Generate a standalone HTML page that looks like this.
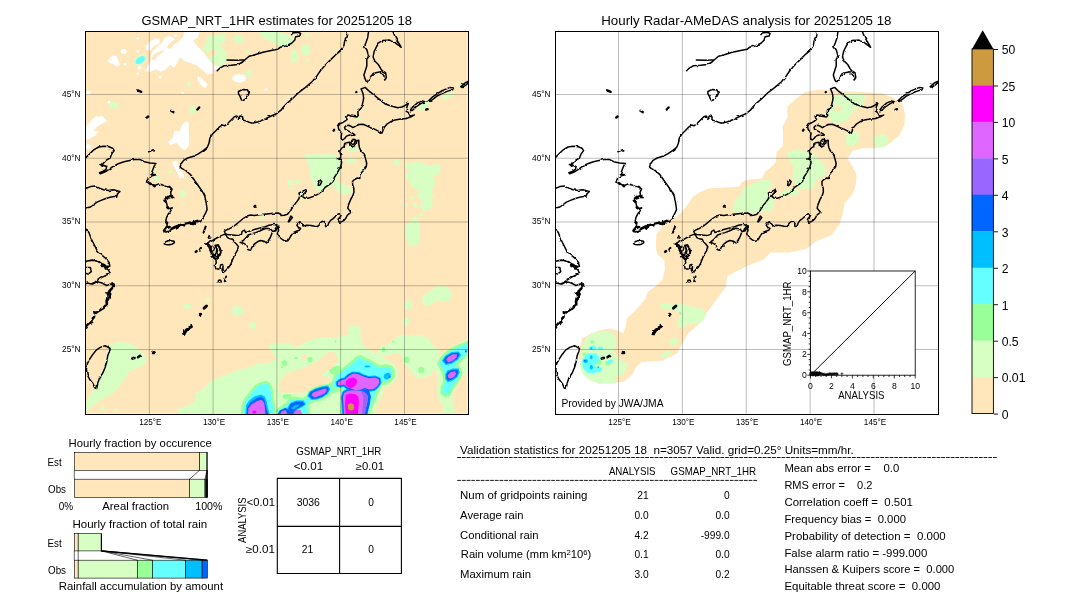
<!DOCTYPE html>
<html><head><meta charset="utf-8"><title>GSMaP validation</title>
<style>html,body{margin:0;padding:0;background:#fff}svg{display:block;opacity:0.999}text{font-family:"Liberation Sans",sans-serif;fill:#000;white-space:pre}</style></head><body>
<svg width="1080" height="612" viewBox="0 0 1080 612">
<defs>
<clipPath id="mc"><rect x="0.5" y="0.5" width="383" height="383"/></clipPath>
<filter id="jag" x="-2%" y="-2%" width="104%" height="104%"><feTurbulence type="fractalNoise" baseFrequency="0.22" numOctaves="2" seed="7" result="n"/><feDisplacementMap in="SourceGraphic" in2="n" scale="2.6" xChannelSelector="R" yChannelSelector="G"/></filter>
<g id="coast" filter="url(#jag)" fill="none" stroke="#000" stroke-width="1.5" stroke-linejoin="round" stroke-linecap="round">
<path d="M131.6 39.7 L134.1 37.3 L138.2 34.8 L145.5 34.3 L152.9 33.5 L157 31 L159.4 28.8 L163.5 25.3 L169.2 23.7 L177.4 21.2 L185.6 19.6 L192.1 18.3 L194.5 16.3 L200.3 15 L206 12.3 L209.2 9 L210.1 5.7 L214.2 4.9 L215 2.5 L212.5 1.3 L206.8 2 L206 3.6 M141.4 29.1 L151.2 29.2 L159.4 28.8 M152.9 60.5 L157 58.5 L161.9 58.8 L163.5 62.1 L161.9 65.4 L160.2 67.8 L157.8 69.4 L155.3 67.8 L154.5 65.4 L152.9 62.9Z M261 0 L262 3.3 L261.3 6.5 L260 8.2 L259.1 9.8 L258.3 14.7 L255 19.6 L250.1 23.7 L244.4 29.4 L239.5 34.3 L234.6 40 L231.3 44.9 L226.4 50.7 L219.9 56.4 L213.3 61.3 L207.6 67 L201.9 71.9 L197.8 76 L195.4 79.2 L191.3 82.5 L185.6 85 L179 88.2 L172.5 90.7 L166.8 92.3 L163.5 91.2 L160.2 89.9 L157 89 L157 85.8 L154.5 85 L152.9 87.4 L151.2 85 L148.8 85.8 L145.5 89 L142.3 92.3 L139 94.8 L136.5 94 L133.3 96.4 L130 100 L126.6 103.3 L124.2 107.4 L123.4 112.3 L121.7 116.3 L117.6 119.6 L112.7 122.9 L107.8 125.3 L102.1 127 L98 129.4 L95.6 132.7 L94.4 135.9 L96.4 137.6 L99.7 139.2 L104.6 143.3 L108.7 149 L112.7 154.7 L116.8 160.5 L119.3 165.4 L120.6 171.9 L121.2 176 L121.5 178.5 L120.3 181.4 L118.5 185 L116.5 187.8 L114.4 189.9 L111.1 190.7 L109.5 193.1 L106.2 192.3 L102.9 191.5 L98.9 193.1 L94.8 194.4 L90.7 196.4 L86.6 198 L83.3 200 L80.5 201 L78.5 200.5 L80.1 198 L81.7 194 L80.1 190.7 L80.9 186.6 L82.5 183.3 L85 180.1 L86.6 176.8 L84.2 177.6 L81.7 175.2 L80.9 171.9 L78.4 169.4 L80.1 167 L84.2 166.2 L88.2 166.7 L85.8 165.4 L85 161.3 L86.6 158 L84.2 156.4 L80.9 155.6 L76.8 153.9 L72.7 153.1 L68.6 154.7 L64.5 152.6 L60.5 150.7 L62.9 147.4 L66.2 144.9 L70.3 143.8 L65.4 143.3 L67 139.2 L68.6 135.1 L70.3 132.4 L64.5 131.9 L58.8 130.7 L54.7 128.6 L49 128.6 L44.1 129.4 L38.4 130.7 L32.7 132.7 L27.8 135.1 L24.5 137.6 L19.6 140.8 L14.7 142.8 L13.9 141.7 L17.2 140.5 L20.4 138.4 L21.2 135.1 L16.3 134.3 L18 131.9 L20.4 129.4 L24.5 127 L26.1 122.9 L28.6 119.6 L27 117.2 L22.9 115.5 L18 115.2 L13.1 116 L8.2 118.8 L4.1 122.9 L0.8 126.1 L0 127 M62.9 120.8 L67.8 118.8 M0 157.5 L0.8 157.2 L4.9 155.6 L9.8 155.1 L13.9 157.2 L18 158.8 L22.9 159.6 L27 158.8 L31 159.6 L34.3 160.5 L31.9 162.9 L31 166.2 L28.6 165.4 L24.5 166.2 L19.6 167.8 L15.5 169.4 L11.4 171.1 L8.2 173.5 L4.9 176 L1.6 176.8 L0 177.6 M0 197.5 L0.8 199 L3.3 201.4 L5.7 208 L9 214.5 L11.4 219.4 L15.5 223.5 L20.4 227.6 L23.7 231.7 L24.5 234.9 L21.2 235.8 L16.3 232.5 L11.4 230 L6.5 228.9 L1.6 230 L0 230.8 M15.5 232.8 L20.4 234.4 L22.9 236.1 L18.8 235.8 L15.5 234.1Z M0 230.2 L7.4 229.2 L13.9 230.8 L19.6 236.6 L22.9 239 L24.5 242.3 L21.2 243.9 L16.3 246.4 L12.3 248.8 L9 251.3 L5.7 252.9 L1.6 252.1 L0 252.9 M5.7 252.9 L7.4 252.9 L11.4 250.5 L16.3 252.1 L21.2 254.5 L25.3 252.9 L28.6 254.5 L26.1 257 L22.9 260.3 L24.5 264.3 L21.2 266.8 L20.4 270.9 L21.2 275 L17.2 278.2 L13.9 279.9 L11.4 281.5 L8.2 280.7 L9 284.8 L7.4 288.1 L4.9 291.4 L1.6 294.6 L0 297.1 M0 236.6 L4.9 236.6 L5.7 240.7 L2.5 243.1 L0 242.3 M19.6 314.7 L24.5 317.5 L23.7 320.8 L22.1 324.8 L21.2 330.6 L19.6 336.3 L17.2 342 L13.9 346.9 L12.3 351.8 L11.1 357.5 L9 356.7 L7.4 352.6 L4.1 348.5 L1.6 343.6 L0.8 338.7 L1.6 333 L4.1 328.1 L7.4 323.2 L10.6 319.1 L14.7 316.4Z M282.9 0 L282.9 0.8 L282.1 6.5 L280.4 11.4 L278.8 15.5 L281.2 18.8 L282.9 24.5 L281.2 29.4 L281.2 35.1 L279.6 40 L278.3 44.1 L279.6 48.2 L281.2 51.5 L283.7 48.2 L286.1 44.1 L290.2 41.7 L295.1 40.8 L298.4 44.9 L299.2 49 L300.8 46.6 L300 41.7 L296.8 40 L295.1 37.6 L292.7 33.5 L289.4 30.2 L287.5 26.1 L288.6 20.4 L291 15.5 L293.5 11.4 L297.6 9.5 L303.3 9 L308.2 10.6 L312.3 13.9 L315.6 16.3 L314.7 14.7 L312.3 10.6 L309.8 6.5 L307.4 0.8 L307.2 0 M275.5 58 L279.6 56.4 L282.9 59.6 L287 62.9 L291 66.2 L295.1 69.4 L299.2 72.7 L303.3 74.3 L307.4 75.5 L312.3 76.8 L316.4 76 L319.6 74.3 L322.9 71.9 L321.3 76 L320.5 80.1 L322.9 81.7 L324.5 85 L328.6 84.2 L325.4 85.8 L321.3 87.4 L315 87.9 L309.5 88.9 L305.6 90.4 L301.7 92.8 L298.7 96.3 L297.3 99.7 L296.3 102.1 L292.8 100.2 L288.9 98.2 L285 96.7 L281.1 94.8 L277.2 93.3 L273.7 93.5 L270.3 94.8 L267.4 96.7 L265.4 95.3 L262.9 94.3 L260.5 94.8 L259 96.3 L259.5 98.2 L262 99.7 L264.9 101.2 L267.8 102.6 L269.3 104.1 L266.4 104.6 L263.4 104.1 L261 105.1 L259 107.5 L257.1 109 L255.6 107.5 L255.6 105.1 L256.1 102.1 L254.6 100.2 L253.1 98.2 L252.6 95.3 L254.1 92.8 L256.6 91.8 L259 90.4 L261.5 88.4 L260.5 86.9 L260 85 L262.5 84 L265.4 85 L268.3 85.5 L271.3 86 L272.7 84.5 L272.3 81.5 L272.7 78.6 L275.7 77.1 L276.7 73.7 L277.6 69.8 L278.1 65.9 L277.2 61.9Z M324.5 79.7 L327 76 L331.9 71.9 L336.8 69.9 L339.2 70.6 L335.2 72.7 L330.3 76 L327 79.2Z M342.5 70.3 L346.6 66.2 L351.5 62.9 L356.4 59.6 L364.6 56.4 L367.8 56.9 L367 58.8 L362.1 60.1 L358 61.8 L354.8 63.4 L351.5 65 L348.2 67.6 L344.2 70.6Z M375.2 55.6 L379.3 52 L382.5 50.3 L382.9 51.6 L380.1 54.2 L376.3 56.5Z M138.7 200.3 L140.5 199.1 L143.6 197.9 L146.7 196.1 L150.3 193.6 L154 190.5 L157.7 187.5 L161.4 185 L165 184 L168.7 184.4 L173.6 183.8 L178.5 183.2 L183.4 182.8 L188.3 182.3 L192.6 182 L195.1 183.2 L195.4 184.6 L198.6 184.2 L201.9 183.3 L204.3 180.1 L206 176.8 L208.4 174.3 L210.9 171.1 L213.3 167.8 L214.2 164.5 L213.3 162.1 L216.6 160.5 L219.9 158.8 L220.7 160.5 L218.2 162.9 L216.6 165.4 L219.1 167 L222.3 167.3 L228 165.4 L232.9 162.9 L237 159.6 L239.5 156.4 L244.4 153.1 L247.7 150 L248.7 146.5 L251.2 142.6 L253.1 139.2 L255.1 135.3 L256.1 131.4 L255.1 128.4 L251.7 127.9 L255.1 126.9 L255.1 123.5 L254.1 120.1 L256.1 117.1 L258.5 115.7 L259 112.7 L261 111.7 L263.9 111.3 L264.4 114.7 L266.4 116.2 L269.3 114.7 L270.8 112.2 L271.3 109.8 L273.2 109.3 L273.2 112.7 L273.7 116.2 L275.2 119.6 L277.6 122 L279.1 125 L280.1 128.4 L281.1 132.3 L280.6 135.8 L278.6 138.7 L276.2 141.2 L274.2 144.1 L274.2 147.5 L271.8 147 L268.8 148.5 L266.9 150.5 L267.1 153.9 L268.3 157.6 L268.3 161.3 L267.1 164.9 L265.3 168 L264 171.1 L262.8 174.1 L262.2 177.2 L264 179.6 L265.9 181.8 L263.4 182.7 L261.6 184.5 L260.4 187 L258.5 189.4 L256.1 190.7 L253.6 191.3 L252.4 188.2 L254.2 186.4 L255.5 184.5 L254.2 182.7 L251.8 183.3 L250 185.2 L247.5 187.6 L245 189.4 L243.2 191.9 L242 195 L240.1 195.6 L239.5 192.5 L238.3 190.1 L235.9 190.7 L233.4 193.1 L232.2 195.6 L229.1 195.3 L225.4 194.6 L221.2 194.3 L217.5 195 L215.6 193.1 L214.4 190.7 L212.6 191.9 L211.3 194.3 L212.6 196.2 L215 197.4 L213.8 199.2 L210.1 200.5 L207.7 201.7 L205.8 204.1 L204 207.2 L202.2 209.7 L199.7 210.3 L196.6 208.4 L193.6 206 L191.7 202.9 L193 199.2 L192.4 196.2 L190.8 194.2 L188.3 193.4 L183.4 194.2 L178.5 196.1 L173.6 197.3 L168.7 198.5 L163.8 200.3 L160.1 201.6 L158.9 199.1 L156.5 200.3 L155.9 203.4 L151.6 204.6 L146.7 204 L141.8 203.4 L139.9 202.8Z M266.4 109.3 L268.8 108.3 L271.3 109.8 L269.3 110.3 L268.8 112.7 L266.4 113.7 L265.4 111.7Z M234.6 149 L236.2 150.7 L234.6 153.9 L232.6 154.7 L232.9 152Z M202.7 190.7 L205.2 185 L206.8 186.6 L203.5 190.7Z M190.8 196.1 L189.6 197.9 L188.3 200.3 L190.2 199.7 L191.4 197.3Z M154.6 211.4 L157.7 209.5 L160.1 207.1 L162.6 204 L166.3 202.8 L170 201.6 L173.6 200.3 L177.3 198.5 L181 197.3 L184.7 197.9 L187.1 200.3 L185.9 203.4 L184.7 206.5 L182.8 209.5 L181 212 L178.5 210.2 L174.9 209.5 L171.8 210.8 L168.7 213.2 L166.3 216.3 L165 219.3 L162.6 218.7 L160.8 216.3 L159.5 213.2 L157.7 212Z M120.9 213.2 L124.6 210.8 L128.3 208.6 L132 206.5 L135.6 204.6 L138.7 203.4 L140.5 204 L141.8 206.5 L144.2 207.7 L147.3 208.3 L148.5 210.8 L151 213.2 L152.8 215.7 L152.2 218.7 L150.3 221.8 L148.5 224.9 L147.3 227.9 L146.1 231 L144.8 234 L143 236.5 L141.2 238.3 L139.3 240.2 L137.5 241.4 L136.3 239 L137.5 235.9 L136.9 233.4 L135 234 L134.4 237.1 L132.6 238.3 L130.1 237.7 L129.5 234.7 L130.7 231.6 L130.1 228.5 L128.3 226.7 L127.7 224.2 L125.8 222.4 L124.6 219.3 L123.4 216.3Z M129.5 214.4 L132.6 213.8 L134.4 216.9 L135.6 220.6 L134.4 224.2 L132 226.1 L129.5 224.2 L130.7 221.2 L131.3 218.1Z M78.6 212.6 L80.5 210.6 L84.5 209.6 L88.5 210.2 L88.8 211.6 L86.5 213.2 L82.5 213.8 L79.5 213.6Z"/>
<path d="M52.3 59.4 L55.6 60.9" stroke-width="2.3"/>
<path d="M61.3 86.5 L62.6 85.5" stroke-width="2.4"/>
<path d="M85.5 79.8 L88 81.2" stroke-width="2.4"/>
<path d="M111.8 78.5 L113.6 76.5" stroke-width="2.4"/>
<path d="M270.6 61.2 L270.9 61" stroke-width="2.2"/>
<path d="M248 99.6 L248.5 98.8" stroke-width="2.4"/>
<path d="M340.5 78.6 L342 78.2" stroke-width="2.4"/>
<path d="M169.1 175.4 L169.5 175" stroke-width="2.8"/>
<path d="M120.2 195.2 L119 198.5 L117.9 201.6" stroke-width="2.0"/>
<path d="M110.2 220.8 L111 220.2" stroke-width="2.6"/>
<path d="M115.4 216.9 L114.2 218.7" stroke-width="2.2"/>
<path d="M123.2 206.7 L123.6 206.3" stroke-width="2.4"/>
<path d="M108 191.6 L109.4 191.9" stroke-width="3.0"/>
<path d="M140.6 245.4 L139 250.3" stroke-width="1.8"/>
<path d="M120.9 275 L118.5 277.2" stroke-width="3.0"/>
<path d="M114.2 283.3 L114.6 282.9" stroke-width="2.4"/>
<path d="M98 303.6 L100.5 299.5 L103.8 296.7 L105.8 295.6" stroke-width="3.0"/>
<path d="M114.2 284.2 L114.6 283.8" stroke-width="2.0"/>
<path d="M46.8 327.5 L48.8 327" stroke-width="2.8"/>
<path d="M52.4 326.2 L54.4 324.8" stroke-width="2.6"/>
<path d="M66.5 320.2 L69.5 322.4 L67 322.4" stroke-width="1.6"/>
<path d="M78.5 199.5 L81 196.5 L84 196" stroke-width="2.6"/>
<path d="M86 197.5 L90 195.5 L95 193.8 L100 192.5 L105 192" stroke-width="2.2"/>
<path d="M127 225.5 L129.5 227.5" stroke-width="2.2"/>
<path d="M26.5 252 L28.5 253.5" stroke-width="2.0"/>
<path d="M21.5 262 L23.5 266 L21.5 270 L21.5 274" stroke-width="2.0"/>
<path d="M120.3 213 L123.4 213.8 L125.2 216.3 L124.6 219.3 L126.4 221.2" stroke-width="1.9"/>
<path d="M125.2 215.7 L127.7 215.1 L128.9 217.5 L127.7 220.6 L125.8 219.3 L125.2 215.7" stroke-width="1.2"/>
<path d="M130.1 214.4 L132.6 215.1 L134.4 218.1 L135 221.8 L133.2 224.2 L131.3 222.4 L132 219.3 L130.7 216.9 L130.1 214.4" stroke-width="1.3"/>
<path d="M127.7 223 L130.1 224.9 L132.6 226.7 L130.1 227.9 L128.3 226.1 L127.7 223" stroke-width="1.5"/>
<path d="M105 192.4 L107.5 193 L108.7 190.9 L111.7 189.9" stroke-width="2.6"/>
<path d="M64.1 152.3 L65 152.9" stroke-width="2.6"/>
<path d="M68.1 154.4 L69.1 155.1" stroke-width="2.6"/>
<path d="M80.7 166.7 L81.7 167.3" stroke-width="2.6"/>
<path d="M79.6 169.9 L80.6 170.6" stroke-width="2.6"/>
<path d="M81.7 176.5 L82.7 177.1" stroke-width="2.6"/>
<path d="M80.6 191.2 L81.5 191.8" stroke-width="2.6"/>
<path d="M81.2 196.1 L82.2 196.7" stroke-width="2.6"/>
<path d="M15.8 134 L16.8 134.6" stroke-width="2.6"/>
<path d="M83.7 156 L84.6 156.7" stroke-width="2.6"/>
<path d="M84.8 165 L85.8 165.7" stroke-width="2.6"/>
<path d="M91 196.1 L92 196.7" stroke-width="2.6"/>
<path d="M97.5 193.6 L98.5 194.3" stroke-width="2.6"/>
<path d="M104.1 191.5 L105.1 192.2" stroke-width="2.6"/>
<path d="M109.3 191.5 L110.3 192.2" stroke-width="2.6"/>
<path d="M25 259 L26.5 257.5" stroke-width="2.4"/>
<path d="M23.3 264.6 L24.8 263.1" stroke-width="2.4"/>
<path d="M21.3 269.5 L22.8 268" stroke-width="2.4"/>
<path d="M22.8 262.1 L24.3 260.7" stroke-width="2.4"/>
<path d="M18.4 276.1 L19.9 274.6" stroke-width="2.4"/>
<path d="M14.5 279.3 L15.9 277.8" stroke-width="2.4"/>
<path d="M10.5 282 L12 280.5" stroke-width="2.4"/>
<path d="M7.1 287.4 L8.6 285.9" stroke-width="2.4"/>
<path d="M4.2 292.8 L5.6 291.3" stroke-width="2.4"/>
<path d="M26.2 254.8 L27.7 253.3" stroke-width="2.4"/>
<path d="M16.4 235.2 L17.9 233.7" stroke-width="2.4"/>
<path d="M20.1 237.6 L21.6 236.2" stroke-width="2.4"/>
<circle cx="134.1" cy="250.6" r="1.5"/>
</g>
<g id="grid1" stroke="#000" stroke-opacity="0.26" stroke-width="1" fill="none">
<path d="M64.30 0.5V383.5"/>
<path d="M0.5 63.50H383.5"/>
<path d="M128.10 0.5V383.5"/>
<path d="M0.5 127.25H383.5"/>
<path d="M191.90 0.5V383.5"/>
<path d="M0.5 191.00H383.5"/>
<path d="M255.70 0.5V383.5"/>
<path d="M0.5 254.75H383.5"/>
<path d="M319.50 0.5V383.5"/>
<path d="M0.5 318.50H383.5"/>
</g>
<g id="grid2" stroke="#000" stroke-opacity="0.26" stroke-width="1" fill="none">
<path d="M63.50 0.5V383.5"/>
<path d="M0.5 63.50H383.5"/>
<path d="M127.38 0.5V383.5"/>
<path d="M0.5 127.25H383.5"/>
<path d="M191.25 0.5V383.5"/>
<path d="M0.5 191.00H383.5"/>
<path d="M255.12 0.5V383.5"/>
<path d="M0.5 254.75H383.5"/>
<path d="M319.00 0.5V383.5"/>
<path d="M0.5 318.50H383.5"/>
</g>
</defs>
<rect width="1080" height="612" fill="#fff"/>
<g transform="translate(85,31)">
<g clip-path="url(#mc)">
<rect x="1" y="1" width="381.6" height="381.6" fill="#ffe7bb"/>
<path d="M60.5 15.5 L64.5 10.6 L70.3 7.4 L75.2 8.2 L74.3 12.3 L68.6 15.5 L65.4 19.6 L61.3 18.8Z" fill="#ffffff"/>
<path d="M61.3 39.2 L62.9 35.1 L65.4 30.2 L66.2 22.1 L70.3 17.2 L76.8 11.8 L80.1 6.5 L85 4.9 L89.1 7.4 L90.7 11.4 L98 6.5 L98.9 1.3 L114.4 0.8 L112.7 6.5 L108.2 9.8 L111.9 14.7 L118.5 21.2 L123.4 27.8 L127.8 33.5 L127.8 42.5 L122.2 43.5 L116.8 38.4 L111.9 34.6 L106.2 31.9 L99.7 30.2 L94.8 26.1 L92.3 31.9 L89.1 36.8 L85 33.5 L80.9 38.4 L76 40.8 L70.3 38.4 L65.4 40.8Z" fill="#ffffff"/>
<path d="M66.2 27.8 L69.4 22.9 L76.8 19.3 L79.7 20.6 L72.7 24.8 L69 29.7Z" fill="#ffe7bb"/>
<path d="M81.7 16.3 L85 11.8 L91.5 7.8 L95.3 3.6 L97.7 5.2 L93.5 10.6 L88.2 14.4 L85 18.3Z" fill="#ffe7bb"/>
<path d="M22.9 29.4 L27 24.5 L31.9 25.3 L33.5 30.2 L35.1 34.3 L31.9 35.6 L27.8 32.7 L24.5 31.9Z" fill="#ffffff"/>
<ellipse cx="38.7" cy="20.4" rx="2.9" ry="2.5" fill="#ffffff"/>
<ellipse cx="52.8" cy="7.4" rx="1.3" ry="1.1" fill="#ffffff"/>
<ellipse cx="52.8" cy="20.4" rx="1.3" ry="1.1" fill="#ffffff"/>
<ellipse cx="40" cy="33.2" rx="1.3" ry="1.1" fill="#ffffff"/>
<ellipse cx="52.8" cy="42.5" rx="1.3" ry="1.1" fill="#ffffff"/>
<ellipse cx="54.7" cy="36.8" rx="2" ry="1.7" fill="#ffffff"/>
<ellipse cx="62.9" cy="39.2" rx="2" ry="1.7" fill="#ffffff"/>
<ellipse cx="75.2" cy="45.8" rx="1.6" ry="1.4" fill="#ffffff"/>
<ellipse cx="97.5" cy="61.8" rx="1.3" ry="1.1" fill="#ffffff"/>
<ellipse cx="24" cy="71.4" rx="1.3" ry="1.1" fill="#ffffff"/>
<ellipse cx="3.3" cy="61.8" rx="2.5" ry="2.1" fill="#ffffff"/>
<ellipse cx="90.4" cy="4.6" rx="1.6" ry="1.4" fill="#ffffff"/>
<path d="M112.7 44.9 L116.8 47.4 L122.5 53.1 L120.1 57.2 L116 53.9 L112.7 49Z" fill="#ffffff"/>
<path d="M2.5 94 L9.8 85.8 L17.2 85 L22.1 89.9 L16.3 93.1 L11.4 96.4 L8.2 100 L2.5 104.6 L0 104.6 L0 98Z" fill="#ffffff"/>
<path d="M94.8 100 L96.4 94.8 L101.3 89.9 L103.8 91.5 L103.8 114.4 L99.7 119.3 L96.4 116.8 L91.5 111.1 L85 113.6 L83.3 111.1 L88.2 106.2Z" fill="#ffffff"/>
<ellipse cx="55.6" cy="29.1" rx="6.9" ry="4.4" fill="#d7ffc3" transform="rotate(-35 55.6 29.1)"/>
<ellipse cx="55.2" cy="29.1" rx="5.4" ry="3.1" fill="#66ffff" transform="rotate(-35 55.2 29.1)"/>
<path d="M122.5 4.1 L127.5 4.1 L130.1 6.5 L130.1 18 L121.7 21.2 L117.6 19.6 L120.9 13.1Z" fill="#d7ffc3"/>
<ellipse cx="127.5" cy="27.8" rx="2.9" ry="3.6" fill="#d7ffc3"/>
<ellipse cx="104.1" cy="53.1" rx="1.6" ry="2.9" fill="#d7ffc3"/>
<ellipse cx="29.1" cy="74.3" rx="4.6" ry="3.3" fill="#d7ffc3"/>
<ellipse cx="107.4" cy="79.2" rx="2.9" ry="4.1" fill="#d7ffc3"/>
<path d="M130 3.3 L139.8 3.3 L140.6 9.8 L134.9 14.7 L139.8 19.6 L142.3 27.8 L138.2 34.3 L130 35.1Z" fill="#d7ffc3"/>
<ellipse cx="153.7" cy="8.2" rx="4.9" ry="4.1" fill="#d7ffc3"/>
<ellipse cx="161.9" cy="20.4" rx="2" ry="2" fill="#d7ffc3"/>
<path d="M174.1 0.8 L192.1 0.8 L206.8 4.9 L210.1 9.8 L205.2 13.9 L198.6 16.3 L192.1 14.7 L185.6 9.8 L179 8.2Z" fill="#d7ffc3"/>
<ellipse cx="220.7" cy="18.8" rx="4.6" ry="5.7" fill="#d7ffc3"/>
<ellipse cx="209.2" cy="25.3" rx="3.6" ry="6.5" fill="#d7ffc3"/>
<ellipse cx="222.3" cy="29.4" rx="2" ry="2" fill="#d7ffc3"/>
<ellipse cx="222" cy="4.1" rx="2" ry="2" fill="#d7ffc3"/>
<ellipse cx="163.5" cy="42.5" rx="3.6" ry="3.3" fill="#d7ffc3"/>
<ellipse cx="154.2" cy="47.4" rx="6.9" ry="4.1" fill="#ffffff"/>
<ellipse cx="181" cy="58.5" rx="1.6" ry="1.6" fill="#ffffff"/>
<ellipse cx="131.6" cy="36.8" rx="2.5" ry="2.5" fill="#ffffff"/>
<path d="M331.9 78.4 L336.8 71.9 L343.3 69.4 L345.8 71.9 L341.7 76 L337.6 80.1Z" fill="#d7ffc3"/>
<path d="M356.4 65.7 L364.6 61.3 L369.2 61.8 L365.4 66.2 L358.9 68.3Z" fill="#d7ffc3"/>
<path d="M371.9 54.7 L376.8 51.6 L379.6 52.9 L375.2 56.7Z" fill="#d7ffc3"/>
<ellipse cx="273.1" cy="87.4" rx="2.5" ry="2" fill="#d7ffc3"/>
<path d="M0 100 L14.7 100 L9.8 104.9 L3.3 108.2 L0 109Z" fill="#ffffff"/>
<ellipse cx="3.6" cy="115.5" rx="2.6" ry="2.6" fill="#ffffff"/>
<path d="M89.1 100 L103.8 100 L103.8 109.8 L99.7 119.6 L95.6 116.3 L91.5 111.4 L85 113.9 L83.3 111.4 L88.2 106.5Z" fill="#ffffff"/>
<path d="M87.4 131 L91.5 129.4 L94.8 135.9 L98 142.5 L98.9 146.6 L94.8 147.4 L92.3 140.8 L88.2 135.1Z" fill="#ffffff"/>
<ellipse cx="69.4" cy="140.8" rx="2" ry="2" fill="#d7ffc3"/>
<ellipse cx="71.9" cy="147.4" rx="2.9" ry="2.6" fill="#d7ffc3"/>
<ellipse cx="85" cy="141.3" rx="2.3" ry="2" fill="#d7ffc3"/>
<ellipse cx="98" cy="162.9" rx="2.9" ry="4.1" fill="#d7ffc3"/>
<ellipse cx="97.7" cy="173" rx="1.3" ry="1.3" fill="#d7ffc3"/>
<path d="M217.4 123.7 L247.6 122.9 L255.8 127.8 L255.8 140.8 L250.9 149 L260.1 153.9 L265.6 156.4 L268.9 162.1 L260.1 163.7 L254.2 162.1 L247.6 153.9 L242.7 156.4 L236.2 160.5 L231.3 158.8 L226.4 150.7 L224.8 140.8 L223.1 131Z" fill="#d7ffc3"/>
<ellipse cx="205.2" cy="151.5" rx="3.3" ry="2.6" fill="#d7ffc3"/>
<ellipse cx="212.5" cy="150.7" rx="2.9" ry="2.6" fill="#d7ffc3"/>
<ellipse cx="206" cy="157.2" rx="1.6" ry="1.3" fill="#d7ffc3"/>
<ellipse cx="215.8" cy="163.7" rx="2.5" ry="2" fill="#d7ffc3"/>
<ellipse cx="176.6" cy="186.6" rx="2" ry="1.6" fill="#d7ffc3"/>
<path d="M319.6 131 L325.4 132.7 L331.9 130.2 L338.4 131.9 L345 135.1 L353.1 132.7 L356.4 137.6 L353.1 142.5 L349.1 145.8 L349.9 153.9 L346.6 160.5 L349.1 167 L345 168.6 L348.2 173.5 L345 178.4 L338.4 180.1 L335.2 175.2 L336.8 170.3 L331.9 164.5 L335.2 158.8 L328.6 157.2 L324.5 152.3 L325.4 147.4 L320.5 149 L319.6 144.1 L325.4 139.2 L320.5 137.6Z" fill="#d7ffc3"/>
<ellipse cx="311.5" cy="131" rx="3.3" ry="3.3" fill="#d7ffc3"/>
<ellipse cx="267.4" cy="118" rx="5.7" ry="3.3" fill="#d7ffc3"/>
<ellipse cx="265.7" cy="129.4" rx="4.9" ry="2.5" fill="#d7ffc3"/>
<ellipse cx="276.3" cy="138.4" rx="2.5" ry="2.5" fill="#d7ffc3"/>
<ellipse cx="327" cy="167" rx="2" ry="2" fill="#d7ffc3"/>
<ellipse cx="330.3" cy="174.3" rx="2.5" ry="2.5" fill="#d7ffc3"/>
<ellipse cx="321.3" cy="173.5" rx="1.6" ry="1.6" fill="#d7ffc3"/>
<ellipse cx="336.8" cy="183.3" rx="2" ry="2" fill="#d7ffc3"/>
<ellipse cx="330.3" cy="186.6" rx="1.6" ry="1.6" fill="#d7ffc3"/>
<path d="M320.5 204.6 L321.3 193.1 L328.6 190.7 L331.9 196.4 L331.1 204.6 L329.4 214.4 L323.7 214.4Z" fill="#d7ffc3"/>
<ellipse cx="101.7" cy="274.9" rx="2.9" ry="2.9" fill="#d7ffc3"/>
<ellipse cx="122.5" cy="268.8" rx="2.5" ry="2.5" fill="#d7ffc3"/>
<ellipse cx="152" cy="279.8" rx="4.9" ry="4.9" fill="#d7ffc3"/>
<ellipse cx="167.9" cy="294.5" rx="3.7" ry="3.2" fill="#d7ffc3"/>
<path d="M106.8 385 L110.8 365 L117.8 358 L127.8 349 L149.8 340 L167.8 335 L177.8 329.6 L188.8 322.5 L182.8 316 L189.5 311.7 L204.2 311.7 L209.1 316.6 L216 313.7 L225.8 308.8 L237.5 305.9 L245.4 306.8 L253.2 305.9 L264.8 302.9 L264.8 295.5 L275.3 295.5 L275.3 302 L277.8 315 L289.8 321.7 L295.8 325 L302.8 330 L308.8 332 L312.8 339 L311.8 348 L305.8 354 L298.8 357 L297.8 362 L294.8 369 L291.8 375 L288.8 385Z" fill="#d7ffc3"/>
<path d="M307.9 308.6 L317.1 303.4 L326.2 304.7 L335.4 303.4 L343.2 307.3 L348.5 315.1 L355 319.1 L353.7 328.2 L349.8 337.4 L345.8 343.9 L338 347.8 L330.2 346.5 L326.2 340 L319.7 333.4 L317.1 325.6 L314.5 321.7 L307.9 323 L297.5 325.6 L292.3 321.7 L296.2 315.1 L302.7 313.8Z" fill="#d7ffc3"/>
<path d="M198.3 346.1 L204.2 341.2 L212.1 338.2 L218.9 337.2 L225.8 333.3 L233.6 329.4 L238.5 324.5 L243.4 320.6 L249.3 321.5 L253.2 326.5 L252.3 331.4 L245.4 338.2 L238.5 341.2 L235.6 345.1 L243.4 346.1 L247.3 350 L243.4 353.9 L233.6 355.9 L218.9 361.7 L194.4 361.7 L193.4 351.9Z" fill="#ffe7bb"/>
<path d="M217 324 L220.9 323 L222.3 326.5 L219.9 329.4 L217.2 328.4Z" fill="#ffe7bb"/>
<path d="M174.8 320.1 L184.6 321.5 L192.4 327.4 L184.6 331.4 L174.8 332.8 L168.9 328.4Z" fill="#ffe7bb"/>
<ellipse cx="320.9" cy="327.8" rx="3.2" ry="3.2" fill="#d7ffc3"/>
<ellipse cx="336.9" cy="339.2" rx="4.6" ry="3.9" fill="#d7ffc3"/>
<ellipse cx="153.3" cy="279.7" rx="5.3" ry="4.3" fill="#d7ffc3"/>
<ellipse cx="167.6" cy="294.7" rx="3.6" ry="2.9" fill="#d7ffc3"/>
<ellipse cx="103.4" cy="275.4" rx="2.9" ry="2.5" fill="#d7ffc3"/>
<ellipse cx="269.2" cy="299.3" rx="6.4" ry="4.3" fill="#d7ffc3"/>
<path d="M337.2 270.3 L338.1 264.4 L344 260.5 L351.9 255.6 L359.7 254.6 L365.6 259.5 L367.5 266.4 L363.6 271.3 L357.7 270.3 L351.9 269.3 L346 273.2 L340.1 275.2Z" fill="#d7ffc3"/>
<path d="M319.5 272.2 L323.4 268.7 L327.4 272.2 L326.4 277.1 L321.5 279.1 L318.5 276.2Z" fill="#d7ffc3"/>
<path d="M318.5 287.9 L322.5 286 L324.8 290.9 L322.5 294.8 L318.5 293.8Z" fill="#d7ffc3"/>
<path d="M320.5 195.8 L326.4 188.9 L331.3 186 L334.2 191.8 L335.2 201.6 L334.2 211.5 L330.3 215.4 L327.4 209.5 L325.4 201.6 L321.5 199.7Z" fill="#d7ffc3"/>
<path d="M25.2 313.3 L32.6 311 L43 311.8 L51.9 316.2 L59.3 323.6 L61.5 329.6 L57.8 334.7 L50.4 337.7 L43 341.4 L40 348.1 L35.6 353.3 L31.1 359.2 L25.2 363.6 L17.8 368.1 L10.4 372.5 L3 378.4 L0 382.9 L0 374 L4.4 365.1 L8.9 359.2 L11.9 350.3 L16.3 342.9 L19.3 334 L22.2 323.6Z" fill="#d7ffc3"/>
<path d="M88.9 386.6 L94.8 377 L102.2 374.7 L109.6 371 L111.1 362.1 L118.5 357.7 L121.5 368.1 L115.6 386.6Z" fill="#d7ffc3"/>
<ellipse cx="17.8" cy="377.7" rx="2.7" ry="2.1" fill="#d7ffc3"/>
<ellipse cx="31.1" cy="379.2" rx="1.8" ry="1.5" fill="#d7ffc3"/>
<path d="M157 385 L157.6 374.6 L160.3 368.1 L165.5 361.5 L170.7 355 L175.9 352.4 L181.2 351.1 L185.1 353.7 L187.1 360.2 L187.7 366.7 L189 374.6 L190.3 385Z" fill="#66ffff" stroke="#99ff99" stroke-width="2.4" stroke-linejoin="round"/>
<path d="M160.3 385 L160.9 374.6 L164.2 369.4 L169.4 365.4 L175.9 363.5 L179.9 365.4 L181.8 370.7 L183.1 377.2 L185.1 385Z" fill="#00bfff"/>
<path d="M161.6 385 L162.2 375.9 L165.5 371.3 L170.7 367.4 L175.9 365.4 L179.2 368.1 L180.5 373.3 L181.8 378.5 L183.8 385Z" fill="#0066ff"/>
<path d="M162.9 385 L163.5 377.2 L166.8 373.3 L172 370 L176.6 368.7 L179.2 372 L179.9 377.2 L180.5 385Z" fill="#df66ff"/>
<ellipse cx="169.4" cy="381.1" rx="2.1" ry="1.6" fill="#ff00ff"/>
<path d="M189 385 L192.9 378.5 L198.2 375.2 L202.1 372 L204.7 368.1 L209.9 366.7 L217.8 368.1 L223 365.4 L224.3 361.5 L228.2 358.2 L234.8 355.6 L241.3 354.3 L245.2 355 L249.1 352.4 L254.4 348.4 L258.3 347.1 L259.6 353.7 L254.4 358.9 L246.5 361.5 L243.9 364.1 L238.7 367.4 L233.5 369.4 L228.2 370 L224.3 372.6 L223 377.2 L224.3 385Z" fill="#66ffff" stroke="#99ff99" stroke-width="2.4" stroke-linejoin="round"/>
<path d="M201.4 385 L202.1 377.2 L205.4 372 L211.2 369.4 L218.4 369.4 L221 373.3 L216.5 376.5 L212.5 378.5 L211.2 385Z" fill="#00bfff"/>
<path d="M202.7 385 L203.4 377.2 L206 372.6 L211.2 370.7 L217.8 370.7 L219.7 373.3 L215.2 375.9 L211.2 377.9 L209.9 385Z" fill="#0066ff"/>
<path d="M206 377.2 L209.9 373.9 L215.2 373.3 L212.5 375.9 L208.6 378.5Z" fill="#00bfff"/>
<path d="M191.6 385 L194.9 379.2 L200.8 376.8 L204 379.8 L204.7 385Z" fill="#0066ff"/>
<path d="M194.2 385 L196.9 380.1 L200.8 379.2 L203.1 385Z" fill="#df66ff"/>
<path d="M207.3 385 L209.9 379.6 L215.2 378.8 L218 385Z" fill="#df66ff"/>
<path d="M222.3 365.2 L224.6 360.5 L230.6 357.3 L237.4 355.2 L243.3 354.6 L245.2 358.2 L242.9 362.8 L237.6 366.5 L232.2 368.4 L226.7 369.1Z" fill="#00bfff"/>
<path d="M223.7 364.8 L225.6 360.9 L230.8 358.2 L237.4 356.3 L242.6 355.6 L243.9 358.2 L242 362.2 L237.4 365.4 L232.2 367.4 L226.9 368.1Z" fill="#0066ff"/>
<path d="M226.3 364.1 L228.2 361.5 L233.5 359.6 L240 357.6 L242 358.9 L240 362.2 L234.8 364.8 L229.5 366.5Z" fill="#df66ff"/>
<ellipse cx="199.5" cy="332.1" rx="2.9" ry="2.9" fill="#99ff99"/>
<ellipse cx="225" cy="328.6" rx="2.6" ry="2.9" fill="#99ff99"/>
<ellipse cx="211.2" cy="326.9" rx="2.1" ry="1" fill="#99ff99"/>
<ellipse cx="250.5" cy="310.5" rx="1" ry="1" fill="#99ff99"/>
<ellipse cx="196.9" cy="336" rx="1" ry="1" fill="#99ff99"/>
<path d="M243.9 339.3 L247.8 336.7 L254.4 334.7 L255.7 337.3 L250.5 341.3 L245.9 341.9Z" fill="#99ff99"/>
<ellipse cx="202.1" cy="365.4" rx="4.6" ry="2.4" fill="#99ff99"/>
<path d="M244.1 354 L247.5 351.7 L249.3 347.2 L251 342.6 L255.6 340.3 L261.3 335.7 L267 331.2 L271.6 326.6 L276.1 325.4 L280.7 328.3 L285.3 330 L289.9 332.9 L294.4 335.7 L300.2 334.6 L305.9 335.7 L308.7 340.3 L308.2 346 L303.6 350.6 L299 352.9 L295.6 351.7 L294.4 356.3 L292.2 362 L289.9 367.8 L287.6 373.5 L285.3 378.1 L283.6 384.9 L255.6 384.9 L256.7 373.5 L257.8 364.3 L256.7 358.6 L252.1 357.5 L248.7 357.5Z" fill="#66ffff" stroke="#99ff99" stroke-width="2.6" stroke-linejoin="round"/>
<path d="M244.1 339.7 L247.5 336.3 L253.3 334.6 L255.6 336.9 L253.3 341.5 L248.7 343.7 L245.3 342.6Z" fill="#99ff99"/>
<path d="M252.7 351.7 L255.6 349.5 L260.1 348.3 L263.6 344.9 L268.1 342.6 L273.9 343.2 L278.4 345.5 L284.1 347.2 L289.9 346.6 L293.9 348.3 L294.4 351.7 L292.2 355.2 L288.7 358 L284.1 358.6 L279.6 356.9 L276.1 358.6 L271.6 359.2 L267 358 L262.4 356.3 L259 353.5 L255.6 354.6 L253 354Z" fill="#00bfff" stroke="#00bfff" stroke-width="4.2" stroke-linejoin="round"/>
<path d="M259 362 L262.4 359.8 L269.3 359.2 L276.1 359.8 L280.7 362 L283 365.5 L282.4 371.2 L280.7 378.1 L279.6 384.9 L259 384.9 L258.4 373.5 L257.8 366.6Z" fill="#00bfff" stroke="#00bfff" stroke-width="4.2" stroke-linejoin="round"/>
<path d="M252.7 351.7 L255.6 349.5 L260.1 348.3 L263.6 344.9 L268.1 342.6 L273.9 343.2 L278.4 345.5 L284.1 347.2 L289.9 346.6 L293.9 348.3 L294.4 351.7 L292.2 355.2 L288.7 358 L284.1 358.6 L279.6 356.9 L276.1 358.6 L271.6 359.2 L267 358 L262.4 356.3 L259 353.5 L255.6 354.6 L253 354Z" fill="#0066ff" stroke="#0066ff" stroke-width="2.4" stroke-linejoin="round"/>
<path d="M259 362 L262.4 359.8 L269.3 359.2 L276.1 359.8 L280.7 362 L283 365.5 L282.4 371.2 L280.7 378.1 L279.6 384.9 L259 384.9 L258.4 373.5 L257.8 366.6Z" fill="#0066ff" stroke="#0066ff" stroke-width="2.4" stroke-linejoin="round"/>
<path d="M278.4 358 L284.1 359.2 L285.9 365.5 L284.7 373.5 L281.9 384.9 L278.4 384.9Z" fill="#0066ff"/>
<path d="M252.7 351.7 L255.6 349.5 L260.1 348.3 L263.6 344.9 L268.1 342.6 L273.9 343.2 L278.4 345.5 L284.1 347.2 L289.9 346.6 L293.9 348.3 L294.4 351.7 L292.2 355.2 L288.7 358 L284.1 358.6 L279.6 356.9 L276.1 358.6 L271.6 359.2 L267 358 L262.4 356.3 L259 353.5 L255.6 354.6 L253 354Z" fill="#df66ff"/>
<path d="M259 362 L262.4 359.8 L269.3 359.2 L276.1 359.8 L280.7 362 L283 365.5 L282.4 371.2 L280.7 378.1 L279.6 384.9 L259 384.9 L258.4 373.5 L257.8 366.6Z" fill="#df66ff"/>
<path d="M276.1 359.8 L280.7 362 L283 365.5 L282.4 371.2 L280.7 378.1 L279.6 384.9 L276.7 384.9 L277.9 373.5 L278.2 365.5Z" fill="#9966ff"/>
<path d="M260.7 350.6 L263.6 347.7 L268.1 346.6 L271.6 348.3 L272.1 351.7 L269.8 355.2 L265.8 357.5 L262.4 355.7 L260.7 353.5Z" fill="#ff00ff"/>
<path d="M260.7 364.3 L264.7 362.6 L270.4 363.2 L273.3 365.5 L273.9 371.2 L273.3 378.1 L272.7 384.9 L260.7 384.9 L260.1 373.5Z" fill="#ff00ff"/>
<path d="M263 373.5 L265.8 372.1 L268.7 373.5 L269.3 376.9 L267.6 379.4 L264.7 379.4 L263 377.5Z" fill="#cd9a3f"/>
<ellipse cx="282.4" cy="335.5" rx="3.1" ry="1.1" fill="#00bfff"/>
<ellipse cx="302.2" cy="345.1" rx="3.7" ry="3" fill="#00bfff" transform="rotate(-35 302.2 345.1)"/>
<ellipse cx="304.7" cy="346" rx="1" ry="0.8" fill="#0066ff"/>
<ellipse cx="298.4" cy="318.6" rx="1.4" ry="2.3" fill="#99ff99"/>
<path d="M350.8 332.7 L355.7 324.3 L364.1 317.3 L372.6 313.1 L383.8 308.5 L383.8 341.2 L376.8 345.4 L371.9 352.4 L368.4 360.8 L367 369.3 L369.8 377.7 L367 385 L357.1 385 L358.5 374.9 L352.9 366.4 L352.2 358 L352.9 346.8 L350.8 339.7Z" fill="#d7ffc3"/>
<path d="M353.1 332.7 L357.3 325.7 L364.3 319.4 L372.8 315.2 L383.3 310.9 L383.3 322.9 L378.4 327.1 L374.2 330.6 L371.4 334.1 L374.2 336.9 L376.3 341.2 L374.9 346.8 L371.4 352.4 L367.2 358 L364.3 363.6 L360.1 365 L356.6 362.2 L356.6 356.6 L359.4 351 L358.7 344 L356.6 338.3Z" fill="#66ffff" stroke="#99ff99" stroke-width="2.4" stroke-linejoin="round"/>
<path d="M357.6 329.5 L360.9 324.9 L366.8 321.6 L373.3 321 L375.3 323.6 L372.6 328.2 L366.8 332.1 L360.9 333.4Z" fill="#0066ff" stroke="#00bfff" stroke-width="1.2" stroke-linejoin="round"/>
<path d="M360.9 328.8 L363.5 325.6 L368.1 323.3 L372 323.3 L371.7 326.2 L368.1 329.5 L363.5 331.5Z" fill="#df66ff"/>
<path d="M360.9 343.2 L362.8 339.9 L368.1 338 L373.3 338.2 L374 341.3 L372 345.8 L367.4 349.1 L362.8 350.4 L360.9 347.8Z" fill="#0066ff" stroke="#00bfff" stroke-width="1.2" stroke-linejoin="round"/>
<path d="M362.8 343.9 L365.5 341.3 L370 340.3 L371.3 342.6 L369.4 345.8 L365.5 347.8 L363.1 346.5Z" fill="#df66ff"/>
<ellipse cx="380.9" cy="320.3" rx="0.8" ry="1.3" fill="#0066ff"/>
<ellipse cx="298.5" cy="318.4" rx="1.6" ry="2.6" fill="#99ff99"/>
<ellipse cx="321.7" cy="328.8" rx="2.6" ry="3.3" fill="#99ff99"/>
<ellipse cx="336.4" cy="339" rx="3.3" ry="2.9" fill="#99ff99"/>
<ellipse cx="308.3" cy="310.5" rx="1.3" ry="1" fill="#99ff99"/>
<use href="#grid1"/><use href="#coast" x="0.6"/>
</g>
<rect x="0.5" y="0.5" width="383" height="383" fill="none" stroke="#000" stroke-width="1"/>
</g>
<g transform="translate(555,31)">
<g clip-path="url(#mc)">
<path d="M27 307.8 L36 302.4 L46.7 298.8 L54.8 297.4 L63.4 299.8 L68.3 302.3 L70.7 294.9 L71.9 287.6 L76.8 282.7 L84.2 275.3 L90.3 268 L92.8 260.6 L100.1 255.7 L107.5 248.4 L109.9 238.6 L109.2 228.8 L102.6 223.9 L101.3 219 L100.7 217.9 L101.4 203.6 L107.9 194.6 L118.7 187.4 L125.9 182 L133 173 L138.2 165.4 L146.3 160.5 L154.5 157.2 L169.2 156.4 L183.9 155.6 L187.2 150.7 L195.4 148.2 L206.8 147.4 L210.1 140.8 L218.2 134.3 L220.7 131 L221.5 121.2 L228 114.7 L228 100 L227.1 96.3 L232.3 87.1 L232.3 75.4 L242.8 66.2 L250.6 61 L263.7 58.4 L284.6 59.7 L305.5 61 L326.4 62.3 L336.9 66.2 L347.4 72.8 L350 83.2 L349.5 93.7 L344.7 104.1 L336.9 110.7 L329.1 115.9 L318.6 117.2 L308.1 117.2 L297.7 119.8 L292.4 127.7 L297.7 135.5 L301.6 143.4 L300.8 153.8 L297.7 163 L289.8 172.1 L287.2 185.2 L284.6 193.1 L276.8 204 L260 210.7 L251.7 217.9 L233.7 221.5 L215.7 221.5 L208.6 228.7 L194.2 234.1 L179.8 241.3 L172.6 244.9 L170.8 255.7 L161.8 268.3 L151 282.7 L143.8 293.4 L133 302.4 L125.9 315 L122.3 322.2 L107.9 329.4 L86.3 331.2 L80.9 336.6 L77.3 343.8 L68.3 351 L43.1 352.8 L32.4 345.6 L27 336.6 L23.4 325.8 L25.2 315Z" fill="#ffe7bb"/>
<path d="M275.4 67.5 L284.6 63.6 L305.5 62.3 L310.8 66.2 L308.1 72.8 L300.3 78 L295.1 85.8 L289.8 91.1 L279.4 92.4 L274.1 87.1 L271.5 78 L279.4 74.1Z" fill="#d7ffc3"/>
<ellipse cx="283.3" cy="77.5" rx="3.4" ry="2.9" fill="#ffe7bb"/>
<path d="M291.1 102.8 L302.9 100.2 L304.2 109.4 L297.7 115.9 L291.1 113.3Z" fill="#d7ffc3"/>
<path d="M318.6 105.5 L329.1 102.8 L334.3 108.1 L329.1 115.9 L319.9 115.9Z" fill="#d7ffc3"/>
<path d="M232.3 121.1 L242.8 118.5 L250.6 121.1 L258.5 122.5 L266.3 130.3 L271.5 138.1 L268.9 146 L261.1 148.6 L258.5 156.4 L250.6 159.1 L242.8 156.4 L237.5 148.6 L238.8 135.5 L233.6 127.7Z" fill="#d7ffc3"/>
<path d="M177.4 176.8 L182.3 170.3 L187.2 165.4 L188 157.2 L192.1 155.6 L195.4 153.9 L201.9 150.7 L208.4 149 L215 149 L218.2 152.3 L215 156.4 L211.7 160.5 L215 163.7 L219.1 165.4 L218.2 171.9 L219.1 176.8 L215 180.1 L206.8 180.1 L201.9 181.7 L195.4 181.7 L188.8 180.9 L182.3 181.7 L177.4 180.1Z" fill="#d7ffc3"/>
<path d="M224.8 162.1 L231.3 158.8 L241.1 157.2 L244.4 160.5 L242.7 163.7 L234.6 164.5 L228 165.4Z" fill="#d7ffc3"/>
<path d="M105 274.1 L111.1 271.7 L118.5 274.1 L125.8 271.7 L130.7 274.1 L139.3 276.6 L147.9 277.8 L151.5 282.7 L147.9 290 L141.7 292.5 L133.2 292.5 L127 297.4 L122.1 294.9 L123.4 287.6 L125.8 281.5 L116 279 L106.2 277.8Z" fill="#d7ffc3"/>
<path d="M114.8 308.4 L119.7 305.9 L123.4 309.6 L119.7 314.5 L114.8 313.3Z" fill="#d7ffc3"/>
<path d="M106.2 323.1 L113.6 319.4 L116 321.9 L109.9 326.8 L105 326.8Z" fill="#d7ffc3"/>
<path d="M65.8 332.9 L70.7 330.4 L73.2 334.1 L69.5 337.8 L65.8 336.6Z" fill="#d7ffc3"/>
<path d="M27 315 L32.4 306 L46.7 302.4 L59.3 306 L61.1 315 L57.5 322.2 L66.5 329.4 L71.9 336.6 L68.3 343.8 L53.9 347.4 L43.1 351 L34.2 345.6 L27 336.6Z" fill="#d7ffc3"/>
<path d="M178 171.2 L187 164 L215.7 164 L217.5 174.8 L208.6 180.2 L194.2 178.4 L183.4 180.2Z" fill="#d7ffc3"/>
<ellipse cx="125.3" cy="282.2" rx="1.2" ry="1.2" fill="#99ff99"/>
<path d="M27 316.7 L30.2 308.5 L37.6 302 L47.4 300.3 L55.6 301.2 L60.5 305.2 L61.3 312.6 L57.2 316.7 L53.9 320.8 L57.2 326.5 L58 332.2 L53.9 334.7 L49 336.3 L45.8 341.2 L53.9 344.5 L60.5 347.7 L61.3 352.6 L47.4 352.6 L37.6 351 L30.2 346.1 L26.1 339.6 L24.5 331.4 L27.8 324.8Z" fill="#d7ffc3"/>
<ellipse cx="37.3" cy="311" rx="2" ry="2" fill="#99ff99"/>
<ellipse cx="42.8" cy="331.1" rx="3.6" ry="2.9" fill="#99ff99"/>
<ellipse cx="52.6" cy="332.2" rx="2.6" ry="2.3" fill="#99ff99"/>
<ellipse cx="29.4" cy="323.2" rx="2.3" ry="1.6" fill="#99ff99"/>
<path d="M33.5 315.9 L39.2 314.2 L41.7 317.5 L38.4 319.1 L34.3 318.6Z" fill="#66ffff"/>
<ellipse cx="45.4" cy="317.2" rx="2.6" ry="1.6" fill="#66ffff"/>
<path d="M27.8 327.3 L32.7 322.4 L40.8 322.4 L44.1 325.7 L43.3 330.6 L39.2 333 L42.5 337.1 L47.4 336.3 L45.8 340.4 L39.2 342 L32.7 342 L28.6 337.9 L27 333Z" fill="#66ffff"/>
<ellipse cx="55.2" cy="330.6" rx="2.6" ry="2" fill="#66ffff"/>
<ellipse cx="30.6" cy="330.1" rx="2.5" ry="1.8" fill="#00bfff"/>
<ellipse cx="36.3" cy="326.2" rx="1.3" ry="2" fill="#00bfff"/>
<ellipse cx="36.3" cy="336.3" rx="1.5" ry="2.3" fill="#00bfff"/>
<ellipse cx="43.3" cy="336.3" rx="1" ry="1" fill="#00bfff"/>
<ellipse cx="36.3" cy="317.2" rx="1.1" ry="1" fill="#00bfff"/>
<ellipse cx="29.9" cy="329.8" rx="1" ry="0.8" fill="#0066ff"/>
<use href="#grid2"/><use href="#coast"/>
</g>
<rect x="0.5" y="0.5" width="383" height="383" fill="none" stroke="#000" stroke-width="1"/>
</g>
<text x="141.4" y="25.4" font-size="12.9" textLength="270.6" lengthAdjust="spacingAndGlyphs">GSMAP_NRT_1HR estimates for 20251205 18</text>
<text x="601.2" y="24.7" font-size="12.9" textLength="290.3" lengthAdjust="spacingAndGlyphs">Hourly Radar-AMeDAS analysis for 20251205 18</text>
<text x="80.6" y="96.8" font-size="8.8" text-anchor="end" textLength="18.6" lengthAdjust="spacingAndGlyphs">45°N</text>
<text x="80.6" y="160.6" font-size="8.8" text-anchor="end" textLength="18.6" lengthAdjust="spacingAndGlyphs">40°N</text>
<text x="80.6" y="224.3" font-size="8.8" text-anchor="end" textLength="18.6" lengthAdjust="spacingAndGlyphs">35°N</text>
<text x="80.6" y="288.1" font-size="8.8" text-anchor="end" textLength="18.6" lengthAdjust="spacingAndGlyphs">30°N</text>
<text x="80.6" y="351.8" font-size="8.8" text-anchor="end" textLength="18.6" lengthAdjust="spacingAndGlyphs">25°N</text>
<text x="150.3" y="425" font-size="8.8" text-anchor="middle" textLength="22.3" lengthAdjust="spacingAndGlyphs">125°E</text>
<text x="214.1" y="425" font-size="8.8" text-anchor="middle" textLength="22.3" lengthAdjust="spacingAndGlyphs">130°E</text>
<text x="277.9" y="425" font-size="8.8" text-anchor="middle" textLength="22.3" lengthAdjust="spacingAndGlyphs">135°E</text>
<text x="341.7" y="425" font-size="8.8" text-anchor="middle" textLength="22.3" lengthAdjust="spacingAndGlyphs">140°E</text>
<text x="405.5" y="425" font-size="8.8" text-anchor="middle" textLength="22.3" lengthAdjust="spacingAndGlyphs">145°E</text>
<text x="550.6" y="96.8" font-size="8.8" text-anchor="end" textLength="18.6" lengthAdjust="spacingAndGlyphs">45°N</text>
<text x="550.6" y="160.6" font-size="8.8" text-anchor="end" textLength="18.6" lengthAdjust="spacingAndGlyphs">40°N</text>
<text x="550.6" y="224.3" font-size="8.8" text-anchor="end" textLength="18.6" lengthAdjust="spacingAndGlyphs">35°N</text>
<text x="550.6" y="288.1" font-size="8.8" text-anchor="end" textLength="18.6" lengthAdjust="spacingAndGlyphs">30°N</text>
<text x="550.6" y="351.8" font-size="8.8" text-anchor="end" textLength="18.6" lengthAdjust="spacingAndGlyphs">25°N</text>
<text x="619.5" y="425" font-size="8.8" text-anchor="middle" textLength="22.3" lengthAdjust="spacingAndGlyphs">125°E</text>
<text x="683.4" y="425" font-size="8.8" text-anchor="middle" textLength="22.3" lengthAdjust="spacingAndGlyphs">130°E</text>
<text x="747.2" y="425" font-size="8.8" text-anchor="middle" textLength="22.3" lengthAdjust="spacingAndGlyphs">135°E</text>
<text x="811.1" y="425" font-size="8.8" text-anchor="middle" textLength="22.3" lengthAdjust="spacingAndGlyphs">140°E</text>
<text x="875" y="425" font-size="8.8" text-anchor="middle" textLength="22.3" lengthAdjust="spacingAndGlyphs">145°E</text>
<text x="561.5" y="406.5" font-size="10.2" textLength="102" lengthAdjust="spacingAndGlyphs">Provided by JWA/JMA</text>
<rect x="972.0" y="48.9" width="21.4" height="36.8" fill="#cd9a3f"/>
<rect x="972.0" y="85.4" width="21.4" height="36.8" fill="#ff00ff"/>
<rect x="972.0" y="121.8" width="21.4" height="36.8" fill="#df66ff"/>
<rect x="972.0" y="158.3" width="21.4" height="36.8" fill="#9966ff"/>
<rect x="972.0" y="194.7" width="21.4" height="36.8" fill="#0066ff"/>
<rect x="972.0" y="231.2" width="21.4" height="36.8" fill="#00bfff"/>
<rect x="972.0" y="267.7" width="21.4" height="36.8" fill="#66ffff"/>
<rect x="972.0" y="304.1" width="21.4" height="36.8" fill="#99ff99"/>
<rect x="972.0" y="340.6" width="21.4" height="36.8" fill="#d7ffc3"/>
<rect x="972.0" y="377" width="21.4" height="36.8" fill="#ffe7bb"/>
<path d="M972.0 48.9L982.7 30.3L993.4 48.9Z" fill="#000"/>
<rect x="972.0" y="48.9" width="21.4" height="364.6" fill="none" stroke="#000" stroke-width="0.9"/>
<path d="M993.8 49.5h4.2" stroke="#000" stroke-width="0.9"/>
<text x="1001.7" y="54.3" font-size="12.2">50</text>
<path d="M993.8 86h4.2" stroke="#000" stroke-width="0.9"/>
<text x="1001.7" y="90.8" font-size="12.2">25</text>
<path d="M993.8 122.4h4.2" stroke="#000" stroke-width="0.9"/>
<text x="1001.7" y="127.2" font-size="12.2">10</text>
<path d="M993.8 158.9h4.2" stroke="#000" stroke-width="0.9"/>
<text x="1001.7" y="163.7" font-size="12.2">5</text>
<path d="M993.8 195.3h4.2" stroke="#000" stroke-width="0.9"/>
<text x="1001.7" y="200.1" font-size="12.2">4</text>
<path d="M993.8 231.8h4.2" stroke="#000" stroke-width="0.9"/>
<text x="1001.7" y="236.6" font-size="12.2">3</text>
<path d="M993.8 268.3h4.2" stroke="#000" stroke-width="0.9"/>
<text x="1001.7" y="273.1" font-size="12.2">2</text>
<path d="M993.8 304.7h4.2" stroke="#000" stroke-width="0.9"/>
<text x="1001.7" y="309.5" font-size="12.2">1</text>
<path d="M993.8 341.2h4.2" stroke="#000" stroke-width="0.9"/>
<text x="1001.7" y="346" font-size="12.2">0.5</text>
<path d="M993.8 377.6h4.2" stroke="#000" stroke-width="0.9"/>
<text x="1001.7" y="382.4" font-size="12.2">0.01</text>
<path d="M993.8 414.1h4.2" stroke="#000" stroke-width="0.9"/>
<text x="1001.7" y="418.9" font-size="12.2">0</text>
<rect x="810.5" y="271.0" width="104.7" height="104.2" fill="#fff" stroke="#000" stroke-width="0.85"/>
<path d="M810.5 375.2L915.2 271.0" stroke="#000" stroke-width="0.95"/>
<path d="M810.5 375.2v3.2M810.5 375.2h-3.2M815.7 375.2v1.8M810.5 370h-1.8M821 375.2v1.8M810.5 364.8h-1.8M826.2 375.2v1.8M810.5 359.6h-1.8M831.4 375.2v3.2M810.5 354.4h-3.2M836.7 375.2v1.8M810.5 349.1h-1.8M841.9 375.2v1.8M810.5 343.9h-1.8M847.1 375.2v1.8M810.5 338.7h-1.8M852.4 375.2v3.2M810.5 333.5h-3.2M857.6 375.2v1.8M810.5 328.3h-1.8M862.9 375.2v1.8M810.5 323.1h-1.8M868.1 375.2v1.8M810.5 317.9h-1.8M873.3 375.2v3.2M810.5 312.7h-3.2M878.6 375.2v1.8M810.5 307.5h-1.8M883.8 375.2v1.8M810.5 302.3h-1.8M889 375.2v1.8M810.5 297.1h-1.8M894.3 375.2v3.2M810.5 291.8h-3.2M899.5 375.2v1.8M810.5 286.6h-1.8M904.7 375.2v1.8M810.5 281.4h-1.8M910 375.2v1.8M810.5 276.2h-1.8M915.2 375.2v3.2M810.5 271h-3.2" stroke="#000" stroke-width="0.8" fill="none"/>
<text x="810.5" y="389.1" font-size="8.6" text-anchor="middle">0</text>
<text x="806.8" y="378.2" font-size="8.6" text-anchor="end">0</text>
<text x="831.4" y="389.1" font-size="8.6" text-anchor="middle">2</text>
<text x="806.8" y="357.4" font-size="8.6" text-anchor="end">2</text>
<text x="852.4" y="389.1" font-size="8.6" text-anchor="middle">4</text>
<text x="806.8" y="336.5" font-size="8.6" text-anchor="end">4</text>
<text x="873.3" y="389.1" font-size="8.6" text-anchor="middle">6</text>
<text x="806.8" y="315.7" font-size="8.6" text-anchor="end">6</text>
<text x="894.3" y="389.1" font-size="8.6" text-anchor="middle">8</text>
<text x="806.8" y="294.8" font-size="8.6" text-anchor="end">8</text>
<text x="915.2" y="389.1" font-size="8.6" text-anchor="middle">10</text>
<text x="806.8" y="274" font-size="8.6" text-anchor="end">10</text>
<text x="838.2" y="399.2" font-size="10.4" textLength="46.3" lengthAdjust="spacingAndGlyphs">ANALYSIS</text>
<text x="790.8" y="365.9" font-size="10" textLength="84.3" lengthAdjust="spacingAndGlyphs" transform="rotate(-90 790.8 365.9)">GSMAP_NRT_1HR</text>
<path d="M809 374.7h3M810.5 373.2v3M809.2 373.1h3M810.7 371.6v3M809.4 373.1h3M810.9 371.6v3M809.6 374.7h3M811.1 373.2v3M809.8 374.2h3M811.3 372.7v3M810 373.1h3M811.5 371.6v3M810.3 373.7h3M811.8 372.2v3M810.5 372.6h3M812 371.1v3M810.7 373.1h3M812.2 371.6v3M810.9 374.7h3M812.4 373.2v3M811.1 373.1h3M812.6 371.6v3M811.3 374.7h3M812.8 373.2v3M811.5 373.7h3M813 372.2v3M811.7 374.2h3M813.2 372.7v3M811.9 373.1h3M813.4 371.6v3M812.1 374.7h3M813.6 373.2v3M812.4 374.7h3M813.9 373.2v3M812.6 372.6h3M814.1 371.1v3M812.8 373.7h3M814.3 372.2v3M813 373.1h3M814.5 371.6v3M813.2 373.1h3M814.7 371.6v3M813.4 373.7h3M814.9 372.2v3M813.6 373.7h3M815.1 372.2v3M813.8 372.6h3M815.3 371.1v3M814 374.7h3M815.5 373.2v3M814.2 374.7h3M815.7 373.2v3M814.4 372.6h3M815.9 371.1v3M814.7 374.7h3M816.2 373.2v3M814.9 373.1h3M816.4 371.6v3M815.1 373.7h3M816.6 372.2v3M815.3 372.6h3M816.8 371.1v3M815.5 374.7h3M817 373.2v3M815.7 372.6h3M817.2 371.1v3M815.9 374.7h3M817.4 373.2v3M816.1 374.7h3M817.6 373.2v3M816.3 373.1h3M817.8 371.6v3M816.5 374.7h3M818 373.2v3M816.7 374.2h3M818.2 372.7v3M817 374.7h3M818.5 373.2v3M817.2 374.2h3M818.7 372.7v3M817.4 373.7h3M818.9 372.2v3M817.6 373.1h3M819.1 371.6v3M817.8 372.6h3M819.3 371.1v3M818 373.7h3M819.5 372.2v3M818.2 372.6h3M819.7 371.1v3M818.4 373.7h3M819.9 372.2v3M819.2 373.7h3M820.7 372.2v3M819.9 373.7h3M821.4 372.2v3M820.6 373.7h3M822.1 372.2v3M821.4 374.2h3M822.9 372.7v3M822.1 374.7h3M823.6 373.2v3M822.8 374.2h3M824.3 372.7v3M823.6 374.7h3M825.1 373.2v3M824.3 374.7h3M825.8 373.2v3M825 374.7h3M826.5 373.2v3M825.8 374.2h3M827.3 372.7v3M826.5 374.7h3M828 373.2v3M827.2 374.2h3M828.7 372.7v3M828 373.7h3M829.5 372.2v3M828.7 374.2h3M830.2 372.7v3M829.4 373.7h3M830.9 372.2v3M830.1 374.2h3M831.6 372.7v3M830.9 374.2h3M832.4 372.7v3M831.6 373.7h3M833.1 372.2v3M832.3 374.2h3M833.8 372.7v3M833.1 373.7h3M834.6 372.2v3M833.8 374.2h3M835.3 372.7v3M834.5 373.7h3M836 372.2v3M835.3 373.7h3M836.8 372.2v3M836 374.2h3M837.5 372.7v3M840.4 373.7h3M841.9 372.2v3" stroke="#000" stroke-width="0.6" fill="none"/>
<text x="68.5" y="446.6" font-size="10.2" textLength="143.3" lengthAdjust="spacingAndGlyphs">Hourly fraction by occurence</text>
<rect x="74.3" y="452.4" width="125.3" height="17.9" fill="#ffe7bb" stroke="#000" stroke-width="0.6"/><rect x="199.6" y="452.4" width="7.3" height="17.9" fill="#d7ffc3" stroke="#000" stroke-width="0.6"/><rect x="206.9" y="452.4" width="0.4" height="17.9" fill="#99ff99" stroke="#000" stroke-width="0.6"/>
<rect x="74.3" y="479.2" width="115.1" height="18.3" fill="#ffe7bb" stroke="#000" stroke-width="0.6"/><rect x="189.4" y="479.2" width="15.6" height="18.3" fill="#d7ffc3" stroke="#000" stroke-width="0.6"/><rect x="205" y="479.2" width="0.6" height="18.3" fill="#99ff99" stroke="#000" stroke-width="0.6"/><rect x="205.6" y="479.2" width="0.6" height="18.3" fill="#66ffff" stroke="#000" stroke-width="0.6"/><rect x="206.2" y="479.2" width="0.4" height="18.3" fill="#00bfff" stroke="#000" stroke-width="0.6"/><rect x="206.6" y="479.2" width="0.7" height="18.3" fill="#000" stroke="#000" stroke-width="0.6"/>
<path d="M74.3 470.3V479.2M199.6 470.3L189.4 479.2M206.9 470.3L205 479.2M207.3 470.3L205.8 479.2M207.3 470.3L206.4 479.2" stroke="#000" stroke-width="0.6" fill="none"/>
<path d="M207.1 470.3V497.5" stroke="#000" stroke-width="1.4"/>
<text x="47.5" y="466" font-size="10.2" textLength="14.2" lengthAdjust="spacingAndGlyphs">Est</text>
<text x="48.1" y="492.9" font-size="10.2" textLength="17.9" lengthAdjust="spacingAndGlyphs">Obs</text>
<text x="58.8" y="509.8" font-size="10.2" textLength="14.4" lengthAdjust="spacingAndGlyphs">0%</text>
<text x="102.3" y="509.8" font-size="10.2" textLength="66.7" lengthAdjust="spacingAndGlyphs">Areal fraction</text>
<text x="195.3" y="509.8" font-size="10.2" textLength="27.2" lengthAdjust="spacingAndGlyphs">100%</text>
<text x="72.4" y="527.6" font-size="10.2" textLength="134.9" lengthAdjust="spacingAndGlyphs">Hourly fraction of total rain</text>
<rect x="74.3" y="533.4" width="3.9" height="17.5" fill="#ffe7bb" stroke="#000" stroke-width="0.6"/><rect x="78.2" y="533.4" width="23.2" height="17.5" fill="#d7ffc3" stroke="#000" stroke-width="0.6"/>
<rect x="74.3" y="560.2" width="3.9" height="17.9" fill="#ffe7bb" stroke="#000" stroke-width="0.6"/><rect x="78.2" y="560.2" width="59.1" height="17.9" fill="#d7ffc3" stroke="#000" stroke-width="0.6"/><rect x="137.3" y="560.2" width="15.2" height="17.9" fill="#99ff99" stroke="#000" stroke-width="0.6"/><rect x="152.5" y="560.2" width="33.1" height="17.9" fill="#66ffff" stroke="#000" stroke-width="0.6"/><rect x="185.6" y="560.2" width="16.5" height="17.9" fill="#00bfff" stroke="#000" stroke-width="0.6"/><rect x="202.1" y="560.2" width="5.2" height="17.9" fill="#0066ff" stroke="#000" stroke-width="0.6"/>
<path d="M74.3 550.9V560.2M78.2 550.9V560.2M101.4 550.9L137.3 560.2M101.4 550.9L152.5 560.2M101.4 550.9L185.6 560.2M101.4 550.9L202.1 560.2M101.4 550.9L207.3 560.2" stroke="#000" stroke-width="0.6" fill="none"/>
<path d="M101.4 533.4V550.9L207.3 560.2" stroke="#000" stroke-width="1.2" fill="none"/>
<text x="47.5" y="546.6" font-size="10.2" textLength="14.2" lengthAdjust="spacingAndGlyphs">Est</text>
<text x="48.1" y="573.6" font-size="10.2" textLength="17.9" lengthAdjust="spacingAndGlyphs">Obs</text>
<text x="58.8" y="589.8" font-size="10.2" textLength="164.3" lengthAdjust="spacingAndGlyphs">Rainfall accumulation by amount</text>
<path d="M277.3 478.4H401.4V573.5H277.3ZM339.6 478.4V573.5M277.3 526.4H401.4" stroke="#000" stroke-width="1.1" fill="none"/>
<text x="296.2" y="455.1" font-size="10.2" textLength="85.1" lengthAdjust="spacingAndGlyphs">GSMAP_NRT_1HR</text>
<text x="293.7" y="470" font-size="10.2" textLength="29.5" lengthAdjust="spacingAndGlyphs">&lt;0.01</text>
<text x="355.8" y="470" font-size="10.2" textLength="28.2" lengthAdjust="spacingAndGlyphs">≥0.01</text>
<text x="246.7" y="505.6" font-size="10.2" textLength="28.2" lengthAdjust="spacingAndGlyphs">&lt;0.01</text>
<text x="245.9" y="553.2" font-size="10.2" textLength="29" lengthAdjust="spacingAndGlyphs">≥0.01</text>
<text x="245.8" y="542.9" font-size="10.2" textLength="45.4" lengthAdjust="spacingAndGlyphs" transform="rotate(-90 245.8 542.9)">ANALYSIS</text>
<text x="308.3" y="505.6" font-size="10.2" text-anchor="middle" textLength="23.3" lengthAdjust="spacingAndGlyphs">3036</text>
<text x="371" y="505.6" font-size="10.2" text-anchor="middle">0</text>
<text x="307.5" y="553.2" font-size="10.2" text-anchor="middle" textLength="11.5" lengthAdjust="spacingAndGlyphs">21</text>
<text x="371" y="553.2" font-size="10.2" text-anchor="middle">0</text>
<text x="460.1" y="453.9" font-size="10.2" textLength="393.7" lengthAdjust="spacingAndGlyphs">Validation statistics for 20251205 18  n=3057 Valid. grid=0.25° Units=mm/hr.</text>
<path d="M457.2 457.5H996.7" stroke="#000" stroke-width="0.9" stroke-dasharray="3.8 0.9"/>
<path d="M457.2 480.4H758" stroke="#000" stroke-width="0.9" stroke-dasharray="3.8 0.9"/>
<text x="608.9" y="474.7" font-size="10.2" textLength="46.7" lengthAdjust="spacingAndGlyphs">ANALYSIS</text>
<text x="670.6" y="474.7" font-size="10.2" textLength="85.5" lengthAdjust="spacingAndGlyphs">GSMAP_NRT_1HR</text>
<text x="460.1" y="499.1" font-size="10.2" textLength="127.4" lengthAdjust="spacingAndGlyphs">Num of gridpoints raining</text>
<text x="648.6" y="499.1" font-size="10.2" text-anchor="end">21</text>
<text x="729.6" y="499.1" font-size="10.2" text-anchor="end">0</text>
<text x="460.1" y="519.1" font-size="10.2" textLength="63.5" lengthAdjust="spacingAndGlyphs">Average rain</text>
<text x="648.6" y="519.1" font-size="10.2" text-anchor="end">0.0</text>
<text x="729.6" y="519.1" font-size="10.2" text-anchor="end">0.0</text>
<text x="460.1" y="539.1" font-size="10.2" textLength="78.5" lengthAdjust="spacingAndGlyphs">Conditional rain</text>
<text x="648.6" y="539.1" font-size="10.2" text-anchor="end">4.2</text>
<text x="729.6" y="539.1" font-size="10.2" text-anchor="end">-999.0</text>
<text x="648.6" y="558.2" font-size="10.2" text-anchor="end">0.1</text>
<text x="729.6" y="558.2" font-size="10.2" text-anchor="end">0.0</text>
<text x="460.1" y="578.1" font-size="10.2" textLength="71" lengthAdjust="spacingAndGlyphs">Maximum rain</text>
<text x="648.6" y="578.1" font-size="10.2" text-anchor="end">3.0</text>
<text x="729.6" y="578.1" font-size="10.2" text-anchor="end">0.2</text>
<text x="460.8" y="558.2" font-size="10.2" textLength="130.5" lengthAdjust="spacingAndGlyphs">Rain volume (mm km<tspan dy="-3.4" font-size="7">2</tspan><tspan dy="3.4">10</tspan><tspan dy="-3.4" font-size="7">6</tspan><tspan dy="3.4">)</tspan></text>
<text x="784.4" y="471.6" font-size="10.2" textLength="114.8" lengthAdjust="spacingAndGlyphs">Mean abs error =    0.0</text>
<text x="784.4" y="488.6" font-size="10.2" textLength="88.1" lengthAdjust="spacingAndGlyphs">RMS error =    0.2</text>
<text x="784.4" y="505.5" font-size="10.2" textLength="128.5" lengthAdjust="spacingAndGlyphs">Correlation coeff =  0.501</text>
<text x="784.4" y="522.5" font-size="10.2" textLength="121.6" lengthAdjust="spacingAndGlyphs">Frequency bias =  0.000</text>
<text x="784.4" y="539.5" font-size="10.2" textLength="161.3" lengthAdjust="spacingAndGlyphs">Probability of detection =  0.000</text>
<text x="784.4" y="556.5" font-size="10.2" textLength="142.9" lengthAdjust="spacingAndGlyphs">False alarm ratio = -999.000</text>
<text x="784.4" y="573.4" font-size="10.2" textLength="169.9" lengthAdjust="spacingAndGlyphs">Hanssen &amp; Kuipers score =  0.000</text>
<text x="784.4" y="590.4" font-size="10.2" textLength="156.1" lengthAdjust="spacingAndGlyphs">Equitable threat score =  0.000</text>
</svg></body></html>
